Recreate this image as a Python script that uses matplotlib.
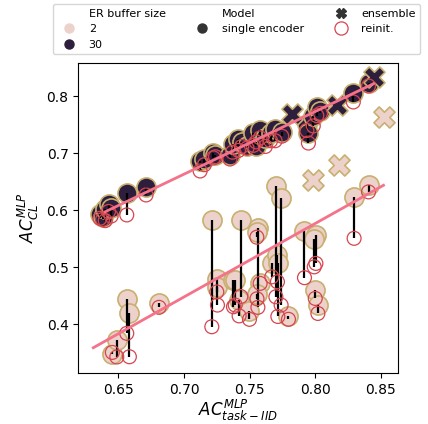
import numpy as np
import matplotlib.pyplot as plt
from matplotlib.lines import Line2D

# ER buffer size 30, single encoder: x, y, y after reinit
hi_x = [0.636, 0.638, 0.640, 0.6425, 0.6445, 0.6564, 0.6711, 0.7123, 0.7155,
        0.7224, 0.724, 0.735, 0.737, 0.7415, 0.744, 0.748, 0.7529, 0.755,
        0.758, 0.762, 0.766, 0.7694, 0.7745, 0.7936, 0.7948, 0.7985, 0.8012,
        0.804, 0.829, 0.8406]
hi_y = [0.594, 0.588, 0.603, 0.612, 0.605, 0.630, 0.641, 0.686, 0.690,
        0.700, 0.697, 0.697, 0.716, 0.725, 0.720, 0.713, 0.735, 0.712,
        0.740, 0.726, 0.736, 0.743, 0.737, 0.752, 0.735, 0.765, 0.781,
        0.775, 0.805, 0.823]
hi_re = [0.586, 0.584, 0.582, 0.598, 0.590, 0.592, 0.627, 0.669, 0.680,
         0.692, 0.694, 0.690, 0.702, 0.705, 0.712, 0.709, 0.714, 0.720,
         0.727, 0.712, 0.722, 0.722, 0.730, 0.740, 0.718, 0.748, 0.766,
         0.770, 0.790, 0.818]

# ER buffer size 2, single encoder
lo_x = [0.6454, 0.6488, 0.6564, 0.6584, 0.681, 0.7212, 0.7255, 0.725,
        0.7377, 0.739, 0.7433, 0.742, 0.7499, 0.7563, 0.758, 0.7669, 0.770,
        0.7712, 0.774, 0.7715, 0.7796, 0.7918, 0.8005, 0.7992, 0.800, 0.802,
        0.8296, 0.8406, 0.7555, 0.7556]
lo_y = [0.349, 0.372, 0.4445, 0.4205, 0.437, 0.583, 0.480, 0.465,
        0.4777, 0.478, 0.583, 0.442, 0.424, 0.5694, 0.472, 0.507, 0.6424,
        0.5215, 0.621, 0.507, 0.415, 0.5636, 0.557, 0.550, 0.460, 0.434,
        0.6237, 0.6441, 0.562, 0.454]
lo_re = [0.351, 0.343, 0.3844, 0.3434, 0.430, 0.396, 0.434, 0.457,
         0.431, 0.434, 0.449, 0.415, 0.409, 0.430, 0.472, 0.4835, 0.4485,
         0.4748, 0.434, 0.414, 0.409, 0.482, 0.507, 0.501, 0.4456, 0.4193,
         0.551, 0.6324, 0.553, 0.445]

# ensembles
ens_hi_x = [0.7822, 0.8165, 0.8444]
ens_hi_y = [0.7697, 0.784, 0.834]
ens_lo_x = [0.7982, 0.8182, 0.852]
ens_lo_y = [0.653, 0.680, 0.7637]

# fitted trend lines (end points)
fit_hi_x = [0.6399, 0.8444]
fit_hi_y = [0.5974, 0.822]
fit_lo_x = [0.6309, 0.852]
fit_lo_y = [0.3592, 0.644]

light = '#edd1cb'
dark = '#2d1e3e'
edge = '#c8b070'
red = '#d64550'
pink = '#f4728a'

fig = plt.figure(figsize=(4.28, 4.24), dpi=100)
ax = fig.add_axes([0.183, 0.120, 0.748, 0.731])

for xs, ys, c in [(lo_x, lo_y, light), (hi_x, hi_y, dark)]:
    ax.scatter(xs, ys, s=190, color=c, edgecolor=edge, linewidth=1.2, zorder=2)
for xs, ys, c in [(ens_lo_x, ens_lo_y, light), (ens_hi_x, ens_hi_y, dark)]:
    ax.scatter(xs, ys, s=230, marker='X', color=c, edgecolor=edge,
               linewidth=1.2, zorder=2)

for xs, ys, rs in [(lo_x, lo_y, lo_re), (hi_x, hi_y, hi_re)]:
    ax.vlines(xs, ys, rs, color='black', linewidth=1.6, zorder=3)
    ax.scatter(xs, rs, s=100, facecolor='none', edgecolor=red, linewidth=0.9,
               zorder=4)

ax.plot(fit_hi_x, fit_hi_y, color=pink, linewidth=2, zorder=5)
ax.plot(fit_lo_x, fit_lo_y, color=pink, linewidth=2, zorder=5)

ax.set_xlim(0.6195, 0.8634)
ax.set_ylim(0.3147, 0.858)
ax.set_xticks([0.65, 0.70, 0.75, 0.80, 0.85])
ax.set_yticks([0.4, 0.5, 0.6, 0.7, 0.8])
ax.tick_params(labelsize=10)
ax.set_xlabel('$AC^{MLP}_{task-IID}$', fontsize=12, labelpad=1)
ax.set_ylabel('$AC^{MLP}_{CL}$', fontsize=12)

blank = Line2D([], [], linestyle='none')
handles = [
    blank,
    Line2D([], [], marker='o', linestyle='none', markersize=6.5, color=light),
    Line2D([], [], marker='o', linestyle='none', markersize=6.5, color=dark),
    blank,
    Line2D([], [], marker='o', linestyle='none', markersize=6.5, color='#333333'),
    Line2D([], [], marker='X', linestyle='none', markersize=6.5, color='#333333'),
    Line2D([], [], marker='o', linestyle='none', markersize=9.5,
           markerfacecolor='none', markeredgecolor=red, markeredgewidth=0.9),
]
labels = ['ER buffer size', '2', '30', 'Model', 'single encoder', 'ensemble',
          'reinit.']
fig.legend(handles, labels, ncol=3, fontsize=8, loc='upper left',
           bbox_to_anchor=(0.124, 0.99), borderaxespad=0, columnspacing=2.3)

plt.savefig('out.png', dpi=100)
